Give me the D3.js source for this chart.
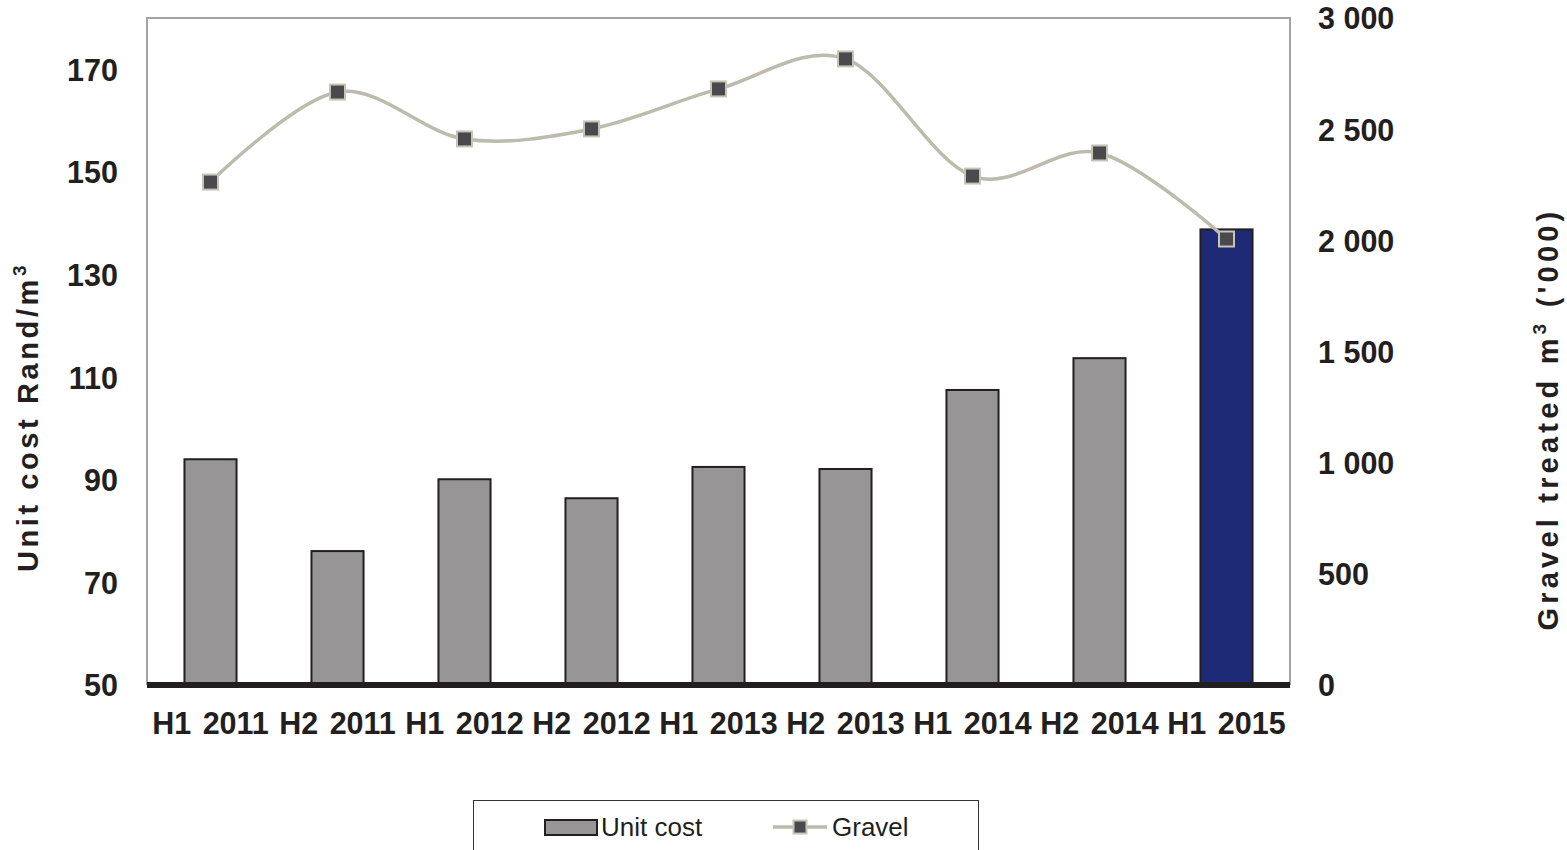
<!DOCTYPE html>
<html>
<head>
<meta charset="utf-8">
<script src="https://cdn.jsdelivr.net/npm/d3@7"></script>
<style>
  html, body { margin: 0; padding: 0; background: #fff; }
  svg { display: block; font-family: "Liberation Sans", Arial, sans-serif; }
</style>
</head>
<body>
<svg id="chart" width="1567" height="850"></svg>
<script>
const categories = ["H1 2011","H2 2011","H1 2012","H2 2012","H1 2013","H2 2013","H1 2014","H2 2014","H1 2015"];
const unitCost = [94.0, 76.1, 90.1, 86.4, 92.5, 92.1, 107.5, 113.7, 138.8];
const gravel = [2262, 2667, 2456, 2501, 2681, 2816, 2289, 2393, 2006];
const leftTicks = [50, 70, 90, 110, 130, 150, 170];
const rightTicks = [0, 500, 1000, 1500, 2000, 2500, 3000];

const svg = d3.select("#chart");
const L = 147, R = 1290, T = 18, B = 685;
const textColor = "#231f20";

const x = d3.scaleBand().domain(categories).range([L, R]).paddingInner(0.59).paddingOuter(0.295);
const yL = d3.scaleLinear().domain([50, 180]).range([B, T]);
const yR = d3.scaleLinear().domain([0, 3000]).range([B, T]);

const loc = d3.formatLocale({decimal: ".", thousands: " ", grouping: [3], currency: ["", ""]});
const fmtR = loc.format(",");

// frame
svg.append("path")
  .attr("d", `M${L},${B} V${T} H${R} V${B}`)
  .attr("fill", "none").attr("stroke", "#a3a3a3").attr("stroke-width", 2);

// bars
svg.append("g").selectAll("rect").data(categories).join("rect")
  .attr("x", d => x(d))
  .attr("width", x.bandwidth())
  .attr("y", (d, i) => yL(unitCost[i]))
  .attr("height", (d, i) => yL(50) - yL(unitCost[i]))
  .attr("fill", (d, i) => i === categories.length - 1 ? "#1f2a77" : "#979596")
  .attr("stroke", "#231f20").attr("stroke-width", 2);

// baseline
svg.append("line").attr("x1", L).attr("x2", R).attr("y1", yL(50)).attr("y2", yL(50))
  .attr("stroke", "#231f20").attr("stroke-width", 6);

// line
const cx = d => x(d) + x.bandwidth() / 2;
const line = d3.line().x((d, i) => cx(categories[i])).y(d => yR(d)).curve(d3.curveCardinal.tension(0));
svg.append("path").datum(gravel).attr("d", line)
  .attr("fill", "none").attr("stroke", "#bdbbab").attr("stroke-width", 3.5);

const ms = 15;
svg.append("g").selectAll("rect").data(gravel).join("rect")
  .attr("x", (d, i) => cx(categories[i]) - ms / 2)
  .attr("y", d => yR(d) - ms / 2)
  .attr("width", ms).attr("height", ms)
  .attr("fill", "#4b494d").attr("stroke", "#c6c4b6").attr("stroke-width", 2);

// axes
const gL = svg.append("g").attr("transform", `translate(${L - 29},0)`)
  .call(d3.axisLeft(yL).tickValues(leftTicks).tickSize(0).tickPadding(0));
const gR = svg.append("g").attr("transform", `translate(${R + 28},0)`)
  .call(d3.axisRight(yR).tickValues(rightTicks).tickSize(0).tickPadding(0).tickFormat(fmtR));
const gX = svg.append("g").attr("transform", `translate(0,${B})`)
  .call(d3.axisBottom(x).tickSize(0).tickPadding(0));
[gL, gR, gX].forEach(g => {
  g.select(".domain").remove();
  g.selectAll("text").attr("fill", textColor).style("font-size", "30.5px").style("font-weight", "bold")
    .style("font-family", "'Liberation Sans', Arial, sans-serif");
});
gL.selectAll("text").attr("dy", "0.36em");
gR.selectAll("text").attr("dy", "0.36em");
gX.selectAll("text").attr("y", 49).attr("dy", 0).style("word-spacing", "3px");

// axis titles
const tl = svg.append("text").attr("transform", "translate(38,417) rotate(-90)")
  .attr("text-anchor", "middle").attr("fill", textColor)
  .style("font-size", "29px").style("font-weight", "bold").style("letter-spacing", "3.6px");
tl.append("tspan").text("Unit cost Rand/m");
tl.append("tspan").attr("dy", -12).style("font-size", "19px").text("3");

const tr = svg.append("text").attr("transform", "translate(1558,419) rotate(-90)")
  .attr("text-anchor", "middle").attr("fill", textColor)
  .style("font-size", "29px").style("font-weight", "bold").style("letter-spacing", "4.2px");
tr.append("tspan").text("Gravel treated m");
tr.append("tspan").attr("dy", -12).style("font-size", "19px").text("3");
tr.append("tspan").attr("dy", 12).text(" ('000)");

// legend
const lg = svg.append("g");
lg.append("rect").attr("x", 473.5).attr("y", 800.5).attr("width", 505).attr("height", 60)
  .attr("fill", "#fff").attr("stroke", "#333").attr("stroke-width", 1);
lg.append("rect").attr("x", 545).attr("y", 820).attr("width", 52).attr("height", 15)
  .attr("fill", "#979596").attr("stroke", "#231f20").attr("stroke-width", 2);
lg.append("text").attr("x", 601).attr("y", 836).attr("fill", textColor)
  .style("font-size", "26px").text("Unit cost");
lg.append("line").attr("x1", 773).attr("x2", 827).attr("y1", 827).attr("y2", 827)
  .attr("stroke", "#bdbbab").attr("stroke-width", 3.5);
lg.append("rect").attr("x", 800 - 6.5).attr("y", 827 - 6.5).attr("width", 13).attr("height", 13)
  .attr("fill", "#4b494d").attr("stroke", "#c6c4b6").attr("stroke-width", 2);
lg.append("text").attr("x", 832).attr("y", 836).attr("fill", textColor)
  .style("font-size", "26px").text("Gravel");
</script>
</body>
</html>
